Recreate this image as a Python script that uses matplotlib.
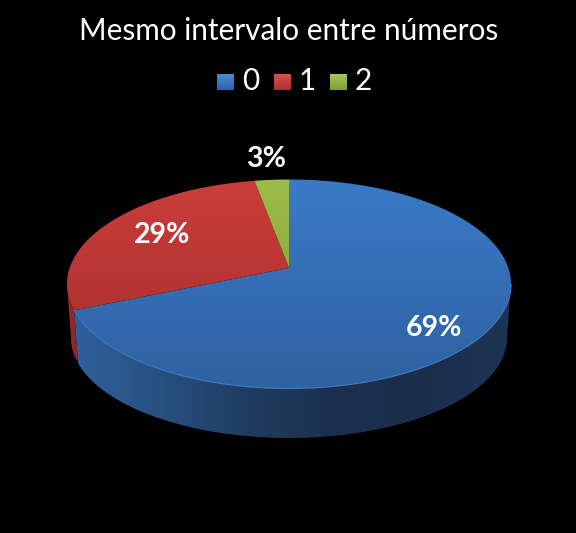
import numpy as np
from matplotlib import pyplot as plt
from matplotlib.patches import Polygon, Rectangle
from matplotlib.colors import to_rgb

plt.rcParams['font.family'] = ['Lato', 'DejaVu Sans']

title = 'Mesmo intervalo entre números'
categories = ['0', '1', '2']
shares = [68.6, 28.5, 2.9]
labels = ['69%', '29%', '3%']

# top colour, bottom colour of each slice
top_colors = [('#3a7ac6', '#2e61a1'), ('#cb3d3a', '#a12e2c'), ('#9dbc49', '#7c9a34')]
legend_colors = [('#4a8ad8', '#2c62a8'), ('#d9504c', '#a93230'), ('#a9c856', '#7f9c38')]
blue_wall = ['#2f609c', '#27507f', '#1f3c60', '#1a2f4e', '#1a2e4c', '#1c3553']
red_wall = ['#a12d2b', '#7f2120']

W, H = 576, 533
# ellipse of top face and of the bottom rim, in pixels
cx, cy, rx, ry = 289, 284, 222, 104.5
bx, by, brx, bry = 289, 338, 218, 100
persp = 0.154  # pie centre sits above the ellipse centre


def warp(x, y):
    d = 1 + persp * y
    return x * np.sqrt(1 - persp ** 2) / d, (y + persp) / d


def face_xy(frac, c=(cx, cy, rx, ry)):
    t = 2 * np.pi * np.asarray(frac)
    x, y = warp(np.sin(t), np.cos(t))
    return c[0] + c[2] * x, c[1] - c[3] * y


def gradient(ax, clip, c0, c1, x0, x1, y0, y1):
    ramp = np.linspace(0, 1, 256)[:, None, None]
    img = (1 - ramp) * np.array(to_rgb(c0)) + ramp * np.array(to_rgb(c1))
    im = ax.imshow(img, extent=(x0, x1, y1, y0), aspect='auto', interpolation='bilinear')
    clip.set_transform(ax.transData)
    im.set_clip_path(clip)


def multi_gradient(ax, clip, colors, x0, x1, y0, y1):
    rgb = np.array([to_rgb(c) for c in colors])
    pos = np.linspace(0, 1, len(colors))
    s = np.linspace(0, 1, 512)
    img = np.stack([np.interp(s, pos, rgb[:, i]) for i in range(3)], axis=1)[None, :, :]
    im = ax.imshow(img, extent=(x0, x1, y1, y0), aspect='auto', interpolation='bilinear')
    clip.set_transform(ax.transData)
    im.set_clip_path(clip)


fig = plt.figure(figsize=(W / 100, H / 100), dpi=100, facecolor='black')
ax = fig.add_axes([0, 0, 1, 1])
ax.set_facecolor('black')

fracs = np.cumsum([0] + shares) / sum(shares)


def right_end():
    # fraction whose warped point is the right-most of the ellipse
    return np.arcsin(persp) / (2 * np.pi) + 0.25


def wall_poly(f0, f1):
    f = np.linspace(f0, f1, 200)
    tx, ty = face_xy(f)
    lx, ly = face_xy(f, (bx, by, brx, bry))
    return np.column_stack([np.r_[tx, lx[::-1]], np.r_[ty, ly[::-1]]])


# side walls
left_end = 1 - right_end()
multi_gradient(ax, Polygon(wall_poly(fracs[1], left_end)), red_wall, 66, 82, 280, 360)
multi_gradient(ax, Polygon(wall_poly(right_end(), fracs[1])), blue_wall, 74, 512, 280, 440)

# top faces
apex = (cx, cy - ry * persp)
for i in range(3):
    fx, fy = face_xy(np.linspace(fracs[i], fracs[i + 1], 200))
    poly = Polygon(np.column_stack([np.r_[apex[0], fx], np.r_[apex[1], fy]]))
    gradient(ax, poly, top_colors[i][0], top_colors[i][1], cx - rx, cx + rx, cy - ry, cy + ry)

# light rim on the front of the blue slice
fx, fy = face_xy(np.linspace(right_end(), fracs[1], 200))
ax.plot(fx, fy, color='#3f78bd', lw=0.9)

ax.text(288.5, 31, title, color='white', fontsize=21.4, ha='center', va='center')

# legend
leg_x = [217, 274, 330]
for i, name in enumerate(categories):
    clip = Rectangle((leg_x[i], 74), 17, 16)
    gradient(ax, clip, legend_colors[i][0], legend_colors[i][1], leg_x[i], leg_x[i] + 17, 74, 90)
    ax.text(leg_x[i] + 25, 81.5, name, color='white', fontsize=21.4, ha='left', va='center')

# value labels
lab_xy = [(434, 327.5), (162.5, 235), (266.5, 159)]
for (lx, ly), lab in zip(lab_xy, labels):
    ax.text(lx, ly, lab, color='white', fontsize=20.5, fontweight='bold', ha='center', va='center')

ax.set_xlim(0, W)
ax.set_ylim(H, 0)
ax.axis('off')
fig.savefig('out.png', dpi=100, facecolor='black')
